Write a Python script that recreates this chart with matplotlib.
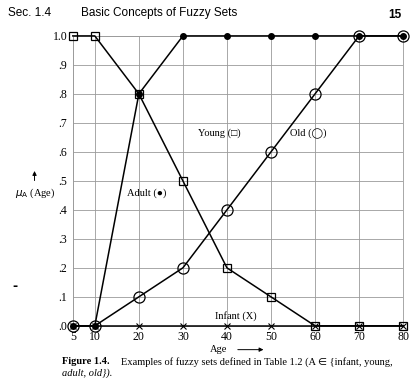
from matplotlib import pyplot as plt
import numpy as np

# ages from Table 1.2 and grades of membership
ages = [5, 10, 20, 30, 40, 50, 60, 70, 80]
infant = [0, 0, 0, 0, 0, 0, 0, 0, 0]
adult = [0, 0, 0.8, 1, 1, 1, 1, 1, 1]
young = [1, 1, 0.8, 0.5, 0.2, 0.1, 0, 0, 0]
old = [0, 0, 0.1, 0.2, 0.4, 0.6, 0.8, 1, 1]

y_ticks = [0.0, 0.1, 0.2, 0.3, 0.4, 0.5, 0.6, 0.7, 0.8, 0.9, 1.0]
y_labels = [".0", ".1", ".2", ".3", ".4", ".5", ".6", ".7", ".8", ".9", "1.0"]

serif = ["Liberation Serif", "DejaVu Sans"]
sans = ["Liberation Sans", "DejaVu Sans"]

fig = plt.figure(figsize=(4.16, 3.78), dpi=100)
ax = fig.add_axes([0.175, 0.138, 0.794, 0.767])

# the four sets, each line with its own marker
ax.plot(ages, young, color="black", lw=1.1, marker="s", ms=6,
        mfc="none", mec="black", mew=0.9, zorder=3, clip_on=False)
ax.plot(ages, old, color="black", lw=1.1, marker="o", ms=8,
        mfc="none", mec="black", mew=0.9, zorder=3, clip_on=False)
ax.plot(ages, adult, color="black", lw=1.1, marker="o", ms=4,
        mfc="black", mec="black", zorder=4, clip_on=False)
ax.plot(ages, infant, color="black", lw=1.1, marker="x", ms=4.5,
        mew=0.8, zorder=3, clip_on=False)

ax.set_xlim(5, 80)
ax.set_ylim(0, 1)
ax.set_xticks(ages)
ax.set_xticklabels([str(a) for a in ages], family=serif, fontsize=8.5)
ax.set_yticks(y_ticks)
ax.set_yticklabels(y_labels, family=serif, fontsize=8.5)
ax.tick_params(length=0, pad=4)

# light grid like the printed graph paper
ax.grid(True, color="#9a9a9a", lw=0.6)
for side in ["top", "right", "left", "bottom"]:
    ax.spines[side].set_color("#9a9a9a")
    ax.spines[side].set_linewidth(0.6)

# set names next to their curves
ax.text(33.5, 0.655, "Young (\u25a1)", family=serif, fontsize=7.5)
ax.text(54.3, 0.655, "Old (\u25ef)", family=serif, fontsize=7.5)
ax.text(17.3, 0.45, "Adult (\u25cf)", family=serif, fontsize=7.5)
ax.text(37.3, 0.025, "Infant (X)", family=serif, fontsize=7.5)

# header of the page
fig.text(0.02, 0.965, "Sec. 1.4", family=sans, fontsize=8.5, va="center")
fig.text(0.195, 0.965, "Basic Concepts of Fuzzy Sets", family=sans,
         fontsize=8.5, va="center")
fig.text(0.965, 0.96, "15", family=sans, fontsize=8.5,
         fontweight="bold", ha="right", va="center")

# y axis label with the arrow above it
fig.text(0.085, 0.49, r"$\mu_{\rm A}$ (Age)", family=serif, fontsize=7.5,
         ha="center", va="center")
fig.add_artist(plt.Annotation("", xy=(0.083, 0.555), xytext=(0.083, 0.515),
                              xycoords="figure fraction",
                              arrowprops=dict(arrowstyle="-|>", color="black",
                                              lw=0.7, mutation_scale=6)))
fig.text(0.03, 0.232, "-", fontsize=9, fontweight="bold")

# x axis label with arrow
fig.text(0.505, 0.075, "Age", family=serif, fontsize=7.5, va="center")
fig.add_artist(plt.Annotation("", xy=(0.64, 0.075), xytext=(0.565, 0.075),
                              xycoords="figure fraction",
                              arrowprops=dict(arrowstyle="-|>", color="black",
                                              lw=0.7, mutation_scale=6)))

# caption
fig.text(0.15, 0.043, "Figure 1.4.", family=serif, fontsize=7.5,
         fontweight="bold", va="center")
fig.text(0.29, 0.043, "Examples of fuzzy sets defined in Table 1.2 (A \u2208 {infant, young,",
         family=serif, fontsize=7.5, va="center")
fig.text(0.15, 0.014, "adult, old}).", family=serif, fontsize=7.5,
         fontstyle="italic", va="center")

fig.savefig("out.png", dpi=100)
